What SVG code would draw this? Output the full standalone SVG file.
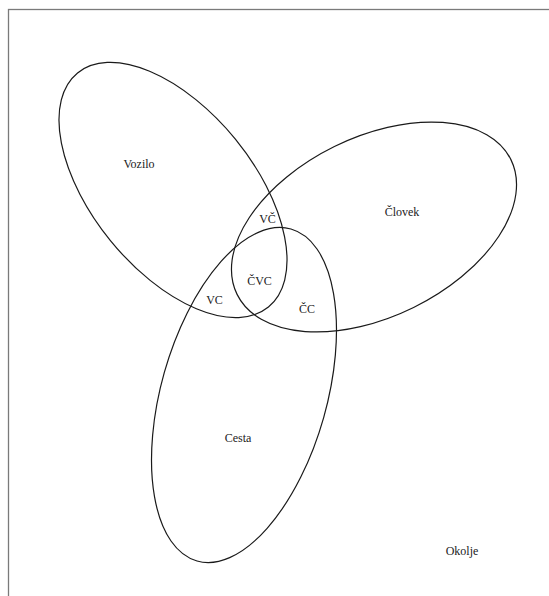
<svg xmlns="http://www.w3.org/2000/svg" width="549" height="596" viewBox="0 0 549 596">
<style>
.set{fill:none;stroke:#1a1a1a;stroke-width:1.2}
.lbl{font-family:'Liberation Serif',serif;font-size:12px;fill:#222;text-anchor:middle}
</style>
<rect x="0" y="0" width="549" height="596" fill="#ffffff"/>
<rect x="8.5" y="9.5" width="560" height="600" fill="none" stroke="#7a7a7a" stroke-width="1.3"/>
<g id="vozilo">
<ellipse class="set" cx="173" cy="190" rx="151" ry="80.5" transform="rotate(50.8 173 190)"/>
<text class="lbl" x="139" y="168" font-family="Liberation Serif, serif">Vozilo</text>
</g>
<g id="clovek">
<ellipse class="set" cx="374" cy="227" rx="152.6" ry="89.7" transform="rotate(-26.2 374 227)"/>
<text class="lbl" x="402" y="216" font-family="Liberation Serif, serif">Človek</text>
</g>
<g id="cesta">
<ellipse class="set" cx="244" cy="395" rx="172.5" ry="82.8" transform="rotate(-74.2 244 395)"/>
<text class="lbl" x="238" y="442" font-family="Liberation Serif, serif">Cesta</text>
</g>
<g id="okolje">
<text class="lbl" x="462" y="555" font-family="Liberation Serif, serif">Okolje</text>
</g>
<g id="intersections">
<text class="lbl" x="267.5" y="223" font-family="Liberation Serif, serif">VČ</text>
<text class="lbl" x="259.5" y="285" font-family="Liberation Serif, serif">ČVC</text>
<text class="lbl" x="214.5" y="304" font-family="Liberation Serif, serif">VC</text>
<text class="lbl" x="307" y="312.5" font-family="Liberation Serif, serif">ČC</text>
</g>
<g id="connectors"/>
</svg>
